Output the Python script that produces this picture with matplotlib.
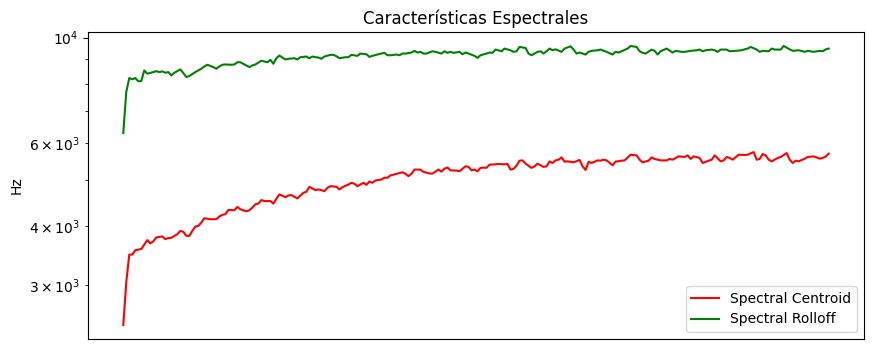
import matplotlib
matplotlib.use("Agg")
import matplotlib.pyplot as plt

# Frame index and value (Hz) for each series
centroid_frames = [0, 1, 2, 3, 4, 5, 6, 8, 9, 10, 11, 13, 14, 15, 16, 18, 19, 20, 21, 22,
                   23, 24, 25, 26, 27, 29, 31, 32, 33, 34, 35, 37, 38, 39, 41, 42, 43, 44, 45, 46,
                   47, 49, 50, 51, 52, 54, 55, 56, 57, 58, 59, 60, 61, 62, 64, 65, 66, 67, 68, 69,
                   71, 72, 73, 75, 76, 77, 78, 80, 81, 82, 83, 84, 86, 87, 88, 89, 91, 93, 94, 95,
                   96, 97, 99, 100, 102, 103, 105, 106, 107, 108, 109, 111, 112, 114, 115, 116, 117, 118, 119, 120,
                   121, 122, 124, 125, 127, 128, 129, 130, 131, 132, 133, 134, 136, 137, 138, 140, 141, 142, 143, 144,
                   145, 146, 147, 148, 150, 152, 153, 154, 155, 156, 158, 159, 160, 161, 163, 164, 166, 167, 169, 171,
                   172, 173, 175, 176, 177, 179, 181, 182, 183, 185, 187, 188, 189, 190, 192, 193, 195, 196, 197, 199,
                   200, 201, 202, 203, 205, 207, 208, 210, 211, 212, 213, 214, 215, 216, 218, 219, 221, 222, 223, 224,
                   225, 227, 228, 230, 232, 233, 234, 235]
centroid_hz = [2475, 3050, 3486, 3486, 3560, 3570, 3582, 3740, 3681, 3717, 3789, 3807, 3758, 3776, 3781, 3849, 3911, 3892, 3818, 3818,
               3911, 3995, 4007, 4073, 4160, 4139, 4139, 4194, 4227, 4241, 4329, 4323, 4393, 4344, 4302, 4323, 4380, 4450, 4465, 4543,
               4521, 4521, 4465, 4572, 4669, 4608, 4646, 4653, 4617, 4579, 4646, 4707, 4730, 4846, 4767, 4783, 4767, 4744, 4822, 4860,
               4846, 4783, 4837, 4900, 4940, 4917, 4860, 4940, 4893, 4972, 4940, 4996, 5020, 5064, 5064, 5120, 5160, 5200, 5160, 5103,
               5160, 5268, 5268, 5210, 5168, 5168, 5268, 5217, 5294, 5319, 5250, 5242, 5225, 5353, 5337, 5250, 5268, 5225, 5312, 5319,
               5312, 5396, 5404, 5414, 5404, 5414, 5268, 5287, 5370, 5501, 5509, 5422, 5312, 5353, 5422, 5337, 5353, 5483, 5440, 5509,
               5528, 5590, 5475, 5483, 5457, 5520, 5353, 5260, 5470, 5440, 5509, 5501, 5528, 5509, 5378, 5475, 5501, 5509, 5663, 5644,
               5528, 5457, 5501, 5590, 5547, 5509, 5509, 5547, 5528, 5617, 5601, 5644, 5547, 5617, 5574, 5440, 5501, 5528, 5644, 5483,
               5509, 5601, 5574, 5528, 5663, 5655, 5663, 5737, 5528, 5547, 5682, 5644, 5528, 5483, 5574, 5601, 5709, 5528, 5440, 5501,
               5483, 5555, 5601, 5617, 5555, 5574, 5617, 5690]

rolloff_frames = [0, 1, 2, 3, 4, 5, 6, 7, 8, 10, 11, 12, 13, 14, 15, 16, 17, 19, 20, 21,
                  22, 24, 26, 27, 28, 30, 31, 32, 33, 34, 36, 37, 38, 39, 41, 42, 43, 44, 46, 47,
                  48, 49, 50, 51, 52, 54, 55, 57, 58, 59, 61, 62, 63, 64, 65, 66, 67, 69, 70, 71,
                  72, 74, 75, 76, 78, 79, 81, 82, 83, 85, 87, 88, 89, 91, 92, 93, 94, 96, 97, 98,
                  99, 100, 101, 103, 104, 106, 107, 108, 109, 110, 112, 113, 114, 115, 117, 118, 119, 121, 122, 123,
                  124, 126, 127, 129, 130, 131, 132, 134, 135, 136, 138, 139, 140, 141, 142, 143, 144, 146, 147, 149,
                  150, 151, 152, 154, 155, 156, 158, 159, 161, 163, 164, 165, 166, 168, 169, 171, 172, 173, 174, 176,
                  177, 178, 179, 181, 183, 184, 186, 187, 189, 191, 192, 193, 194, 196, 197, 198, 199, 201, 202, 204,
                  206, 207, 208, 209, 211, 212, 213, 215, 216, 217, 219, 220, 222, 223, 225, 227, 228, 230, 232, 233,
                  234, 235]
rolloff_hz = [6290, 7685, 8220, 8168, 8220, 8090, 8100, 8530, 8395, 8460, 8500, 8460, 8489, 8435, 8460, 8327, 8435, 8571, 8420, 8260,
              8300, 8460, 8600, 8696, 8767, 8667, 8600, 8696, 8767, 8780, 8767, 8780, 8875, 8875, 8738, 8667, 8738, 8780, 8940, 8908,
              8875, 8980, 8810, 9050, 9169, 8994, 9025, 9050, 8994, 9095, 9125, 9050, 9125, 9095, 9081, 9025, 9125, 9200, 9200, 9138,
              9050, 9095, 9095, 9200, 9155, 9258, 9227, 9110, 9155, 9227, 9290, 9182, 9182, 9213, 9182, 9258, 9258, 9303, 9380, 9303,
              9335, 9258, 9258, 9362, 9335, 9258, 9362, 9290, 9335, 9290, 9335, 9227, 9303, 9258, 9155, 9065, 9182, 9258, 9303, 9290,
              9438, 9362, 9484, 9407, 9335, 9362, 9560, 9515, 9258, 9182, 9335, 9362, 9258, 9362, 9484, 9407, 9450, 9335, 9484, 9590,
              9438, 9258, 9303, 9213, 9335, 9380, 9407, 9438, 9335, 9213, 9335, 9303, 9362, 9484, 9606, 9560, 9362, 9290, 9258, 9438,
              9380, 9213, 9362, 9484, 9303, 9380, 9335, 9335, 9380, 9407, 9438, 9362, 9407, 9438, 9407, 9335, 9438, 9438, 9362, 9380,
              9407, 9450, 9484, 9560, 9438, 9335, 9380, 9362, 9484, 9438, 9438, 9606, 9450, 9380, 9407, 9335, 9380, 9335, 9380, 9362,
              9450, 9484]

series_labels = ["Spectral Centroid", "Spectral Rolloff"]
title_text = "Características Espectrales"
ylabel_text = "Hz"

fig = plt.figure(figsize=(8.73, 3.5), dpi=100)
ax = fig.add_axes([88 / 873, 1 - 339 / 350, (864 - 88) / 873, (339 - 32) / 350])
ax.plot(centroid_frames, centroid_hz, color="red", label=series_labels[0])
ax.plot(rolloff_frames, rolloff_hz, color="green", label=series_labels[1])
ax.set_yscale("log")
ax.set_xticks([])
ax.set_title(title_text)
ax.set_ylabel(ylabel_text)
ax.legend(loc="lower right")
fig.savefig("out.png", dpi=100)
